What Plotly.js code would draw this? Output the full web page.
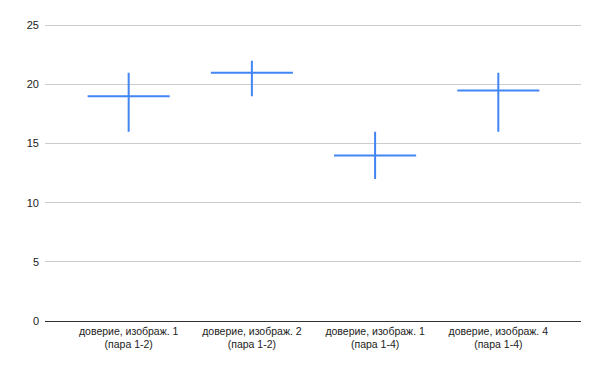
<!DOCTYPE html>
<html>
<head>
<meta charset="utf-8">
<script src="https://cdn.plot.ly/plotly-3.0.1.min.js"></script>
<style>
  html, body { margin: 0; padding: 0; background: #fff; }
  #chart { width: 600px; height: 371px; }
</style>
</head>
<body>
<div id="chart"></div>
<script>
// Categories (tick labels)
const categories = [
  "доверие, изображ. 1<br>(пара 1-2)",
  "доверие, изображ. 2<br>(пара 1-2)",
  "доверие, изображ. 1<br>(пара 1-4)",
  "доверие, изображ. 4<br>(пара 1-4)"
];
// Series values
const lowValues   = [16, 19, 12, 16];
const midValues   = [19, 21, 14, 19.5];
const highValues  = [21, 22, 16, 21];
const yTickValues = [0, 5, 10, 15, 20, 25];

const lineColor = "#4285f4";

const trace = {
  type: "ohlc",
  x: categories,
  open: midValues,
  close: midValues,
  high: highValues,
  low: lowValues,
  tickwidth: 0.333,
  increasing: { line: { color: lineColor, width: 2 } },
  decreasing: { line: { color: lineColor, width: 2 } },
  hoverinfo: "skip",
  showlegend: false
};

const layout = {
  width: 600,
  height: 371,
  margin: { l: 45, r: 19, t: 22.6, b: 49.5, pad: 0 },
  paper_bgcolor: "#ffffff",
  plot_bgcolor: "#ffffff",
  font: { family: "Liberation Sans, Arial, sans-serif", color: "#222222", size: 11 },
  showlegend: false,
  xaxis: {
    type: "category",
    range: [-0.679, 3.671],
    rangeslider: { visible: false },
    showgrid: false,
    zeroline: false,
    showline: true,
    linecolor: "#333333",
    linewidth: 1,
    ticks: "",
    tickangle: 0,
    tickfont: { size: 10.5, color: "#222222" },
    fixedrange: true
  },
  yaxis: {
    range: [0, 25.2],
    tickvals: yTickValues,
    ticktext: yTickValues.map(String),
    showgrid: true,
    gridcolor: "#cccccc",
    gridwidth: 1,
    zeroline: false,
    showline: false,
    ticks: "",
    ticklabelstandoff: 5,
    tickfont: { size: 11, color: "#222222" },
    fixedrange: true
  }
};

Plotly.newPlot("chart", [trace], layout, { staticPlot: true, displayModeBar: false });
</script>
</body>
</html>
